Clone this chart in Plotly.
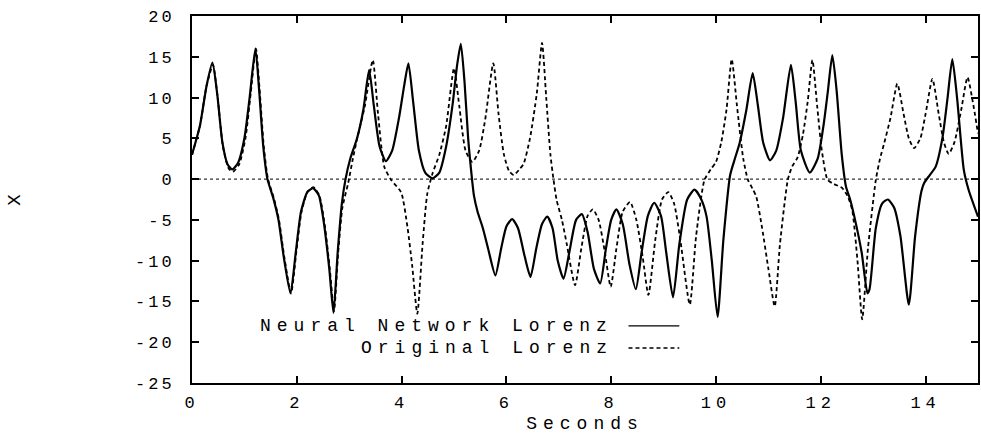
import plotly.graph_objects as go

# ---- data ----
nn_t = [0.00, 0.15, 0.28, 0.39, 0.48, 0.58, 0.68, 0.77, 0.88, 1.00, 1.10, 1.21, 1.28, 1.36, 1.44,
        1.55, 1.65, 1.75, 1.88, 1.98, 2.08, 2.20, 2.31, 2.42, 2.52, 2.62, 2.70, 2.78, 2.86, 2.93,
        3.02, 3.15, 3.27, 3.38, 3.47, 3.58, 3.70, 3.82, 3.95, 4.05, 4.13, 4.22, 4.33, 4.45, 4.59,
        4.72, 4.85, 4.97, 5.06, 5.13, 5.20, 5.27, 5.32, 5.38, 5.45, 5.55, 5.65, 5.79, 5.90, 6.00,
        6.11, 6.22, 6.35, 6.46, 6.57, 6.68, 6.78, 6.88, 6.98, 7.09, 7.20, 7.33, 7.44, 7.55, 7.67,
        7.79, 7.90, 8.00, 8.10, 8.22, 8.35, 8.47, 8.58, 8.70, 8.82, 8.95, 9.05, 9.18, 9.30, 9.45,
        9.59, 9.72, 9.82, 9.92, 10.03, 10.14, 10.27, 10.36, 10.45, 10.58, 10.70, 10.80, 10.90,
        11.03, 11.15, 11.28, 11.43, 11.52, 11.62, 11.79, 11.94, 12.05, 12.13, 12.22, 12.30, 12.40,
        12.48, 12.56, 12.64, 12.78, 12.89, 12.93, 13.05, 13.17, 13.28, 13.40, 13.52, 13.68, 13.80,
        13.92, 13.97, 14.08, 14.19, 14.32, 14.42, 14.51, 14.60, 14.73, 14.82, 15.00]
nn_x = [3.0, 6.5, 11.5, 14.3, 10.5, 4.5, 1.8, 1.2, 2.0, 5.0, 10.0, 16.0, 11.0, 4.0, 0.0,
        -2.3, -5.0, -9.5, -14.0, -9.0, -4.0, -1.6, -1.1, -2.0, -5.5, -11.0, -16.4, -9.0, -3.0, 0.0,
        2.5, 5.0, 8.5, 13.4, 9.0, 4.0, 2.2, 3.5, 7.5, 11.5, 14.2, 9.5, 3.5, 0.8, 0.1,
        0.8, 4.0, 9.0, 14.0, 16.6, 12.0, 5.0, 1.5, -2.0, -4.0, -6.0, -8.5, -11.8, -8.5, -5.8,
        -4.9, -6.0, -9.5, -12.0, -8.5, -5.5, -4.6, -6.0, -10.0, -12.2, -9.0, -5.0, -4.3, -6.5, -11.0,
        -12.8, -8.5, -5.0, -3.7, -5.5, -10.5, -13.5, -9.0, -4.5, -2.9, -4.5, -9.0, -14.5, -8.0, -2.5,
        -1.3, -2.5, -4.6, -10.0, -16.9, -7.5, 0.5, 2.5, 4.4, 8.5, 13.0, 9.0, 4.5,
        2.3, 3.5, 7.5, 14.0, 9.5, 3.5, 0.8, 2.5, 6.5, 10.5, 15.2, 11.0, 3.0,
        -0.9, -2.5, -4.6, -9.0, -14.0, -13.5, -6.0, -3.0, -2.5, -3.5, -7.0, -15.4, -7.0,
        -1.5, -0.5, 0.5, 1.5, 5.0, 10.0, 14.7, 10.0, 1.1, -1.3, -4.6]

orig_t = [0.00, 0.15, 0.28, 0.40, 0.49, 0.59, 0.70, 0.78, 0.90, 1.02, 1.12, 1.22, 1.29, 1.37, 1.45,
          1.56, 1.66, 1.76, 1.89, 1.99, 2.09, 2.21, 2.32, 2.43, 2.53, 2.63, 2.71, 2.79, 2.87, 2.98,
          3.07, 3.16, 3.30, 3.45, 3.55, 3.67, 3.80, 3.99, 4.11, 4.20, 4.30, 4.40, 4.49, 4.59,
          4.72, 4.85, 5.00, 5.10, 5.22, 5.35, 5.48, 5.60, 5.75, 5.85, 5.95, 6.05, 6.14, 6.25, 6.33,
          6.45, 6.58, 6.68, 6.76, 6.84, 6.90, 6.96, 7.06, 7.15, 7.31, 7.43, 7.55, 7.65, 7.76, 7.88,
          7.99, 8.10, 8.22, 8.36, 8.48, 8.60, 8.71, 8.84, 8.97, 9.09, 9.20, 9.32, 9.50, 9.62, 9.78,
          9.90, 10.00, 10.10, 10.20, 10.30, 10.40, 10.52, 10.61, 10.70, 10.77, 10.88, 11.00, 11.12,
          11.22, 11.37, 11.45, 11.56, 11.66, 11.75, 11.84, 11.93, 12.02, 12.13, 12.25, 12.41, 12.52,
          12.60, 12.70, 12.79, 12.90, 13.05, 13.13, 13.21, 13.33, 13.46, 13.58, 13.68, 13.78, 13.90,
          14.00, 14.13, 14.25, 14.35, 14.44, 14.55, 14.68, 14.80, 14.90, 15.00]
orig_x = [3.0, 6.5, 11.5, 14.0, 10.0, 4.0, 1.3, 0.9, 1.8, 5.0, 10.5, 16.0, 11.0, 4.0, 0.0,
          -2.3, -5.0, -9.5, -14.0, -9.0, -4.0, -1.5, -1.0, -2.0, -5.5, -11.0, -16.2, -9.0, -3.5, -0.5,
          2.5, 5.2, 9.0, 14.6, 8.0, 1.5, -0.1, -1.6, -5.8, -10.5, -16.5, -8.0, -1.8, 0.7,
          3.0, 6.5, 13.6, 9.0, 3.5, 2.1, 3.5, 7.5, 14.2, 8.0, 3.1, 1.0, 0.5, 1.2, 1.9,
          5.0, 10.5, 16.7, 10.0, 3.0, -0.1, -2.6, -5.0, -7.9, -13.0, -8.5, -4.5, -3.7, -5.0, -9.0,
          -13.2, -8.5, -4.0, -2.8, -5.0, -9.5, -14.2, -7.5, -2.5, -1.6, -3.0, -7.5, -15.4, -7.0, -0.1,
          1.2, 2.1, 4.5, 8.5, 14.7, 9.0, 2.5, -0.1, -1.2, -2.2, -6.0, -11.0, -15.6,
          -8.0, -0.1, 1.5, 2.7, 5.5, 9.5, 14.6, 9.0, 3.5, -0.1, -0.6, -1.1, -2.2,
          -3.8, -10.0, -17.2, -8.5, -0.1, 2.5, 4.4, 7.5, 11.7, 8.0, 5.0, 3.8, 5.0,
          8.0, 12.3, 8.0, 4.5, 3.1, 4.5, 8.5, 12.5, 9.5, 5.6]

x_ticks = [0, 2, 4, 6, 8, 10, 12, 14]
x_tick_text = ["0", "2", "4", "6", "8", "10", "12", "14"]
y_ticks = [20, 15, 10, 5, 0, -5, -10, -15, -20, -25]
y_tick_text = ["20", "15", "10", "5", "0", "-5", "-10", "-15", "-20", "-25"]
series_names = ["Neural Network Lorenz", "Original Lorenz"]

FONT = "Liberation Mono, DejaVu Sans Mono, monospace"


def wide(s, px):
    return '<span style="letter-spacing:%dpx">%s</span>' % (px, s)


fig = go.Figure()
fig.add_trace(go.Scatter(x=orig_t, y=orig_x, mode="lines", name=series_names[1],
                         line=dict(color="black", width=1.8, dash="4px,3px", shape="spline", smoothing=0.6)))
fig.add_trace(go.Scatter(x=nn_t, y=nn_x, mode="lines", name=series_names[0],
                         line=dict(color="black", width=2.2, shape="spline", smoothing=0.6)))

# zero line (dotted)
fig.add_shape(type="line", xref="paper", yref="y", x0=0, x1=1, y0=0, y1=0,
              line=dict(color="black", width=1, dash="dot"))

# gnuplot-style key: text then line sample
key_y = [-18.0, -20.7]
key_dash = ["solid", "4px,3px"]
for name, ky, dsh in zip(series_names, key_y, key_dash):
    fig.add_annotation(x=8.05, y=ky, xref="x", yref="y", text=wide(name, 6), showarrow=False,
                       xanchor="right", yanchor="middle", borderpad=0,
                       font=dict(family=FONT, size=18, color="black"))
    fig.add_shape(type="line", xref="x", yref="y", x0=8.33, x1=9.30, y0=ky, y1=ky,
                  line=dict(color="black", width=1.4, dash=dsh))

# rotated y label
fig.add_annotation(x=-0.226, y=0.5, xref="paper", yref="paper", text="X", showarrow=False,
                   xanchor="center", yanchor="middle", textangle=-90,
                   font=dict(family=FONT, size=19, color="black"))

fig.update_layout(
    width=981, height=434,
    margin=dict(l=192, r=1, t=16, b=51),
    paper_bgcolor="white", plot_bgcolor="white",
    showlegend=False,
    font=dict(family=FONT, size=17, color="black"),
    xaxis=dict(range=[0, 15], tickvals=x_ticks, ticktext=[wide(t, 5) for t in x_tick_text],
               ticks="inside", ticklen=7, tickwidth=2,
               tickcolor="black", showline=True, linecolor="black", linewidth=2, mirror="ticks",
               showgrid=False, zeroline=False, ticklabelstandoff=3,
               tickfont=dict(family=FONT, size=17),
               title=dict(text=wide("Seconds", 6), standoff=5, font=dict(family=FONT, size=18))),
    yaxis=dict(range=[-25, 20], tickvals=y_ticks, ticktext=[wide(t, 3) for t in y_tick_text],
               ticks="inside",
               ticklen=7, tickwidth=2, tickcolor="black", showline=True, linecolor="black",
               linewidth=2, mirror="ticks", showgrid=False, zeroline=False,
               ticklabelstandoff=12, tickfont=dict(family=FONT, size=17)),
)

fig.write_html("out.html")
